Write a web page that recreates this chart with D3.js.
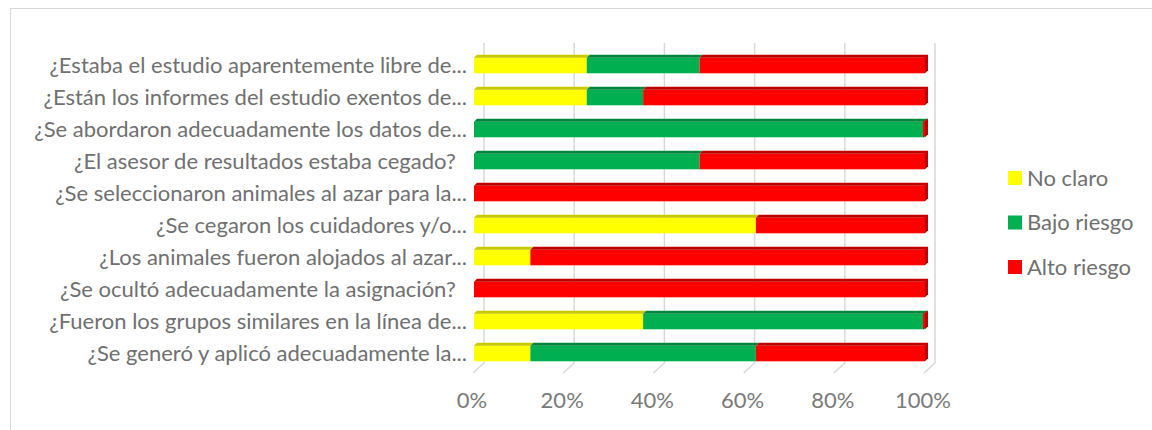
<!DOCTYPE html>
<html><head><meta charset="utf-8">
<script src="https://cdn.jsdelivr.net/npm/d3@7"></script>
<style>body{margin:0;background:#fff}svg{display:block;font-family:Lato,"Open Sans",sans-serif}</style>
</head><body><svg id="c" width="1152" height="430"></svg>
<script>
const categories = [
  "¿Estaba el estudio aparentemente libre de...",
  "¿Están los informes del estudio exentos de...",
  "¿Se abordaron adecuadamente los datos de...",
  "¿El asesor de resultados estaba cegado?\u00a0\u00a0",
  "¿Se seleccionaron animales al azar para la...",
  "¿Se cegaron los cuidadores y/o...",
  "¿Los animales fueron alojados al azar...",
  "¿Se ocultó adecuadamente la asignación?\u00a0\u00a0",
  "¿Fueron los grupos similares en la línea de...",
  "¿Se generó y aplicó adecuadamente la..."
];
const seriesNames = ["No claro", "Bajo riesgo", "Alto riesgo"];
const noClaro   = [25, 25, 0, 0, 0, 62.5, 12.5, 0, 37.5, 12.5];
const bajoRiesgo = [25, 12.5, 100, 50, 0, 0, 0, 0, 62.5, 50];
const altoRiesgo = [50, 62.5, 0, 50, 100, 37.5, 87.5, 100, 0, 37.5];
const tickValues = [0, 20, 40, 60, 80, 100];

const colors = ["#FFFF00", "#00B050", "#FF0000"];
const darks  = ["#c9c900", "#00873d", "#c00000"];

const svg = d3.select("#c");
svg.append("rect").attr("x",10.5).attr("y",8.5).attr("width",1200).attr("height",500)
  .attr("fill","none").attr("stroke","#d9d9d9");

const x = d3.scaleLinear().domain([0,100]).range([474,925]);
const y = d3.scaleBand().domain(categories).range([48,368]).paddingInner(0.42).paddingOuter(0.21);
const dep = 10, floorTop = 363, floorBot = 373;

// gridlines with 3D floor
const g = svg.append("g");
tickValues.forEach(v => {
  g.append("path").attr("d", `M${x(v)+dep},43 L${x(v)+dep},${floorTop} L${x(v)-1},${floorBot}`)
    .attr("fill","none").attr("stroke","#d9d9d9").attr("stroke-width",1.5);
});

// stacked bars
const rows = categories.map((c,i)=>({cat:c, vals:[noClaro[i], bajoRiesgo[i], altoRiesgo[i]]}));
const bh = y.bandwidth(), t = 3;
rows.forEach(r => {
  let acc = 0;
  const y0 = y(r.cat);
  r.vals.forEach((v,k) => {
    if (v <= 0) return;
    const xa = x(acc), xb = x(acc+v);
    acc += v;
    svg.append("rect").attr("x",xa).attr("y",y0+t).attr("width",xb-xa).attr("height",bh-t).attr("fill",colors[k]);
    svg.append("path").attr("d",`M${xa},${y0+t} L${xa+t},${y0} L${xb+t},${y0} L${xb},${y0+t}Z`).attr("fill",darks[k]);
  });
  // end cap (last series face)
  const xe = x(100);
  svg.append("path").attr("d",`M${xe-2},${y0+t} L${xe+t},${y0} L${xe+t},${y0+bh-t} L${xe-2},${y0+bh}Z`).attr("fill",colors[2]);
  svg.append("path").attr("d",`M${xe},${y0+t} L${xe+t},${y0} L${xe+t},${y0+bh-t} L${xe},${y0+bh}Z`).attr("fill",darks[2]);
});

const fs = 22;
// category labels
svg.append("g").selectAll("text").data(categories).join("text")
  .attr("x",467).attr("y",d=>y(d)+bh/2+1).attr("dy","0.35em").attr("text-anchor","end")
  .attr("font-size",fs).attr("fill","#707070").style("white-space","pre").text(d=>d);

// x axis labels
const ax = svg.append("g").attr("transform","translate(-2,0)");
ax.call(g2 => g2.selectAll("text").data(tickValues).join("text")
  .attr("x",d=>x(d)).attr("y",408).attr("text-anchor","middle")
  .attr("font-size",fs).attr("fill","#7a7a7a").text(d=>d+"%"));

// legend
const lg = svg.append("g");
seriesNames.forEach((n,i)=>{
  const cy = 178 + i*44.5;
  lg.append("rect").attr("x",1008).attr("y",cy-7).attr("width",14).attr("height",14).attr("fill",colors[i]);
  lg.append("text").attr("x",1027).attr("y",cy).attr("dy","0.35em").attr("font-size",fs).attr("fill","#707070").text(n);
});
</script></body></html>
